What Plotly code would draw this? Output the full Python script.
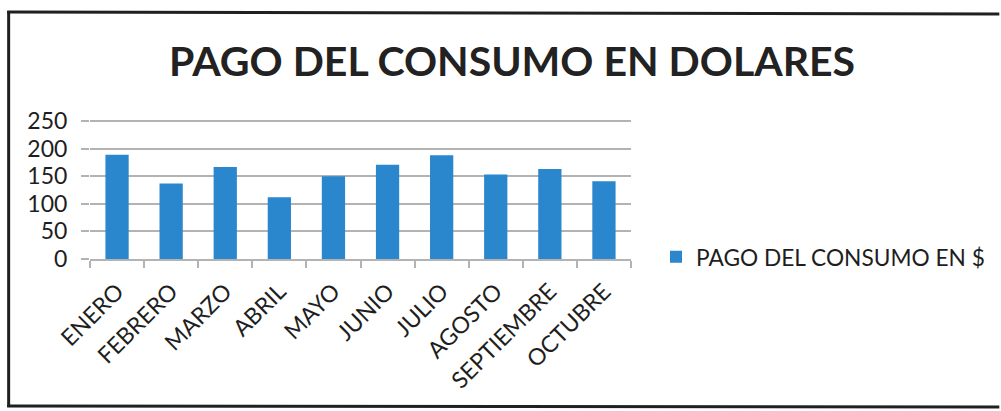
import plotly.graph_objects as go

meses = ["ENERO", "FEBRERO", "MARZO", "ABRIL", "MAYO", "JUNIO",
         "JULIO", "AGOSTO", "SEPTIEMBRE", "OCTUBRE"]
pago = [189, 137, 167, 112, 150, 171, 188, 153, 163, 141]
serie = "PAGO DEL CONSUMO EN $"
titulo = "PAGO DEL CONSUMO EN DOLARES"
y_ticks = [0, 50, 100, 150, 200, 250]
y_max = 252  # a little headroom so the 250 gridline is drawn

W, H = 1001, 411
L, R, T, B = 90, 632, 120, 259  # plot area in pixels


def px_x(x):
    return (x - L) / (R - L)


def px_y(y):
    return (B - y) / (B - T)


FONT = "Lato"
INK = "#1e1e1e"
BLUE = "#2a87cd"
GRID = "#b3b3b3"

fig = go.Figure()
fig.add_trace(go.Bar(
    x=meses, y=pago, name=serie,
    marker=dict(color=BLUE, line=dict(width=0)),
    showlegend=True,
))

frame = dict(type="line", xref="paper", yref="paper",
             line=dict(color="#202020", width=3))
fig.update_layout(
    width=W, height=H,
    margin=dict(l=L, r=W - R, t=T, b=H - B, pad=0),
    paper_bgcolor="white", plot_bgcolor="white",
    font=dict(family=FONT, color=INK),
    title=dict(text="<b>" + titulo + "</b>", x=512 / W, xanchor="center",
               y=1 - 62 / H, yanchor="middle",
               font=dict(size=41, family=FONT, color="#222222")),
    bargap=0.57,
    showlegend=True,
    legend=dict(x=px_x(656), xanchor="left", y=px_y(257), yanchor="middle",
                font=dict(size=22.7, family=FONT, color=INK),
                bgcolor="rgba(0,0,0,0)", itemwidth=30),
    xaxis=dict(
        showgrid=False, showline=True, linecolor=GRID, linewidth=2,
        ticks="outside", tickson="boundaries", ticklen=7, tickwidth=2,
        tickcolor=GRID, tickangle=-45,
        tickfont=dict(size=23, family=FONT, color=INK),
        ticklabelstandoff=8,
    ),
    yaxis=dict(
        range=[0, y_max], tickvals=y_ticks, showgrid=True, gridcolor=GRID,
        gridwidth=2, zeroline=False, showline=False,
        ticks="outside", ticklen=8, tickwidth=2, tickcolor=GRID,
        tickfont=dict(size=23, family=FONT, color=INK),
        ticklabelstandoff=9,
    ),
    shapes=[
        dict(frame, x0=px_x(8.5), x1=px_x(8.5), y0=px_y(11), y1=px_y(407)),
        dict(frame, x0=px_x(7), x1=px_x(1001), y0=px_y(12), y1=px_y(14)),
        dict(frame, x0=px_x(7), x1=px_x(1001), y0=px_y(406), y1=px_y(407)),
    ],
)

fig.write_html("out.html")
